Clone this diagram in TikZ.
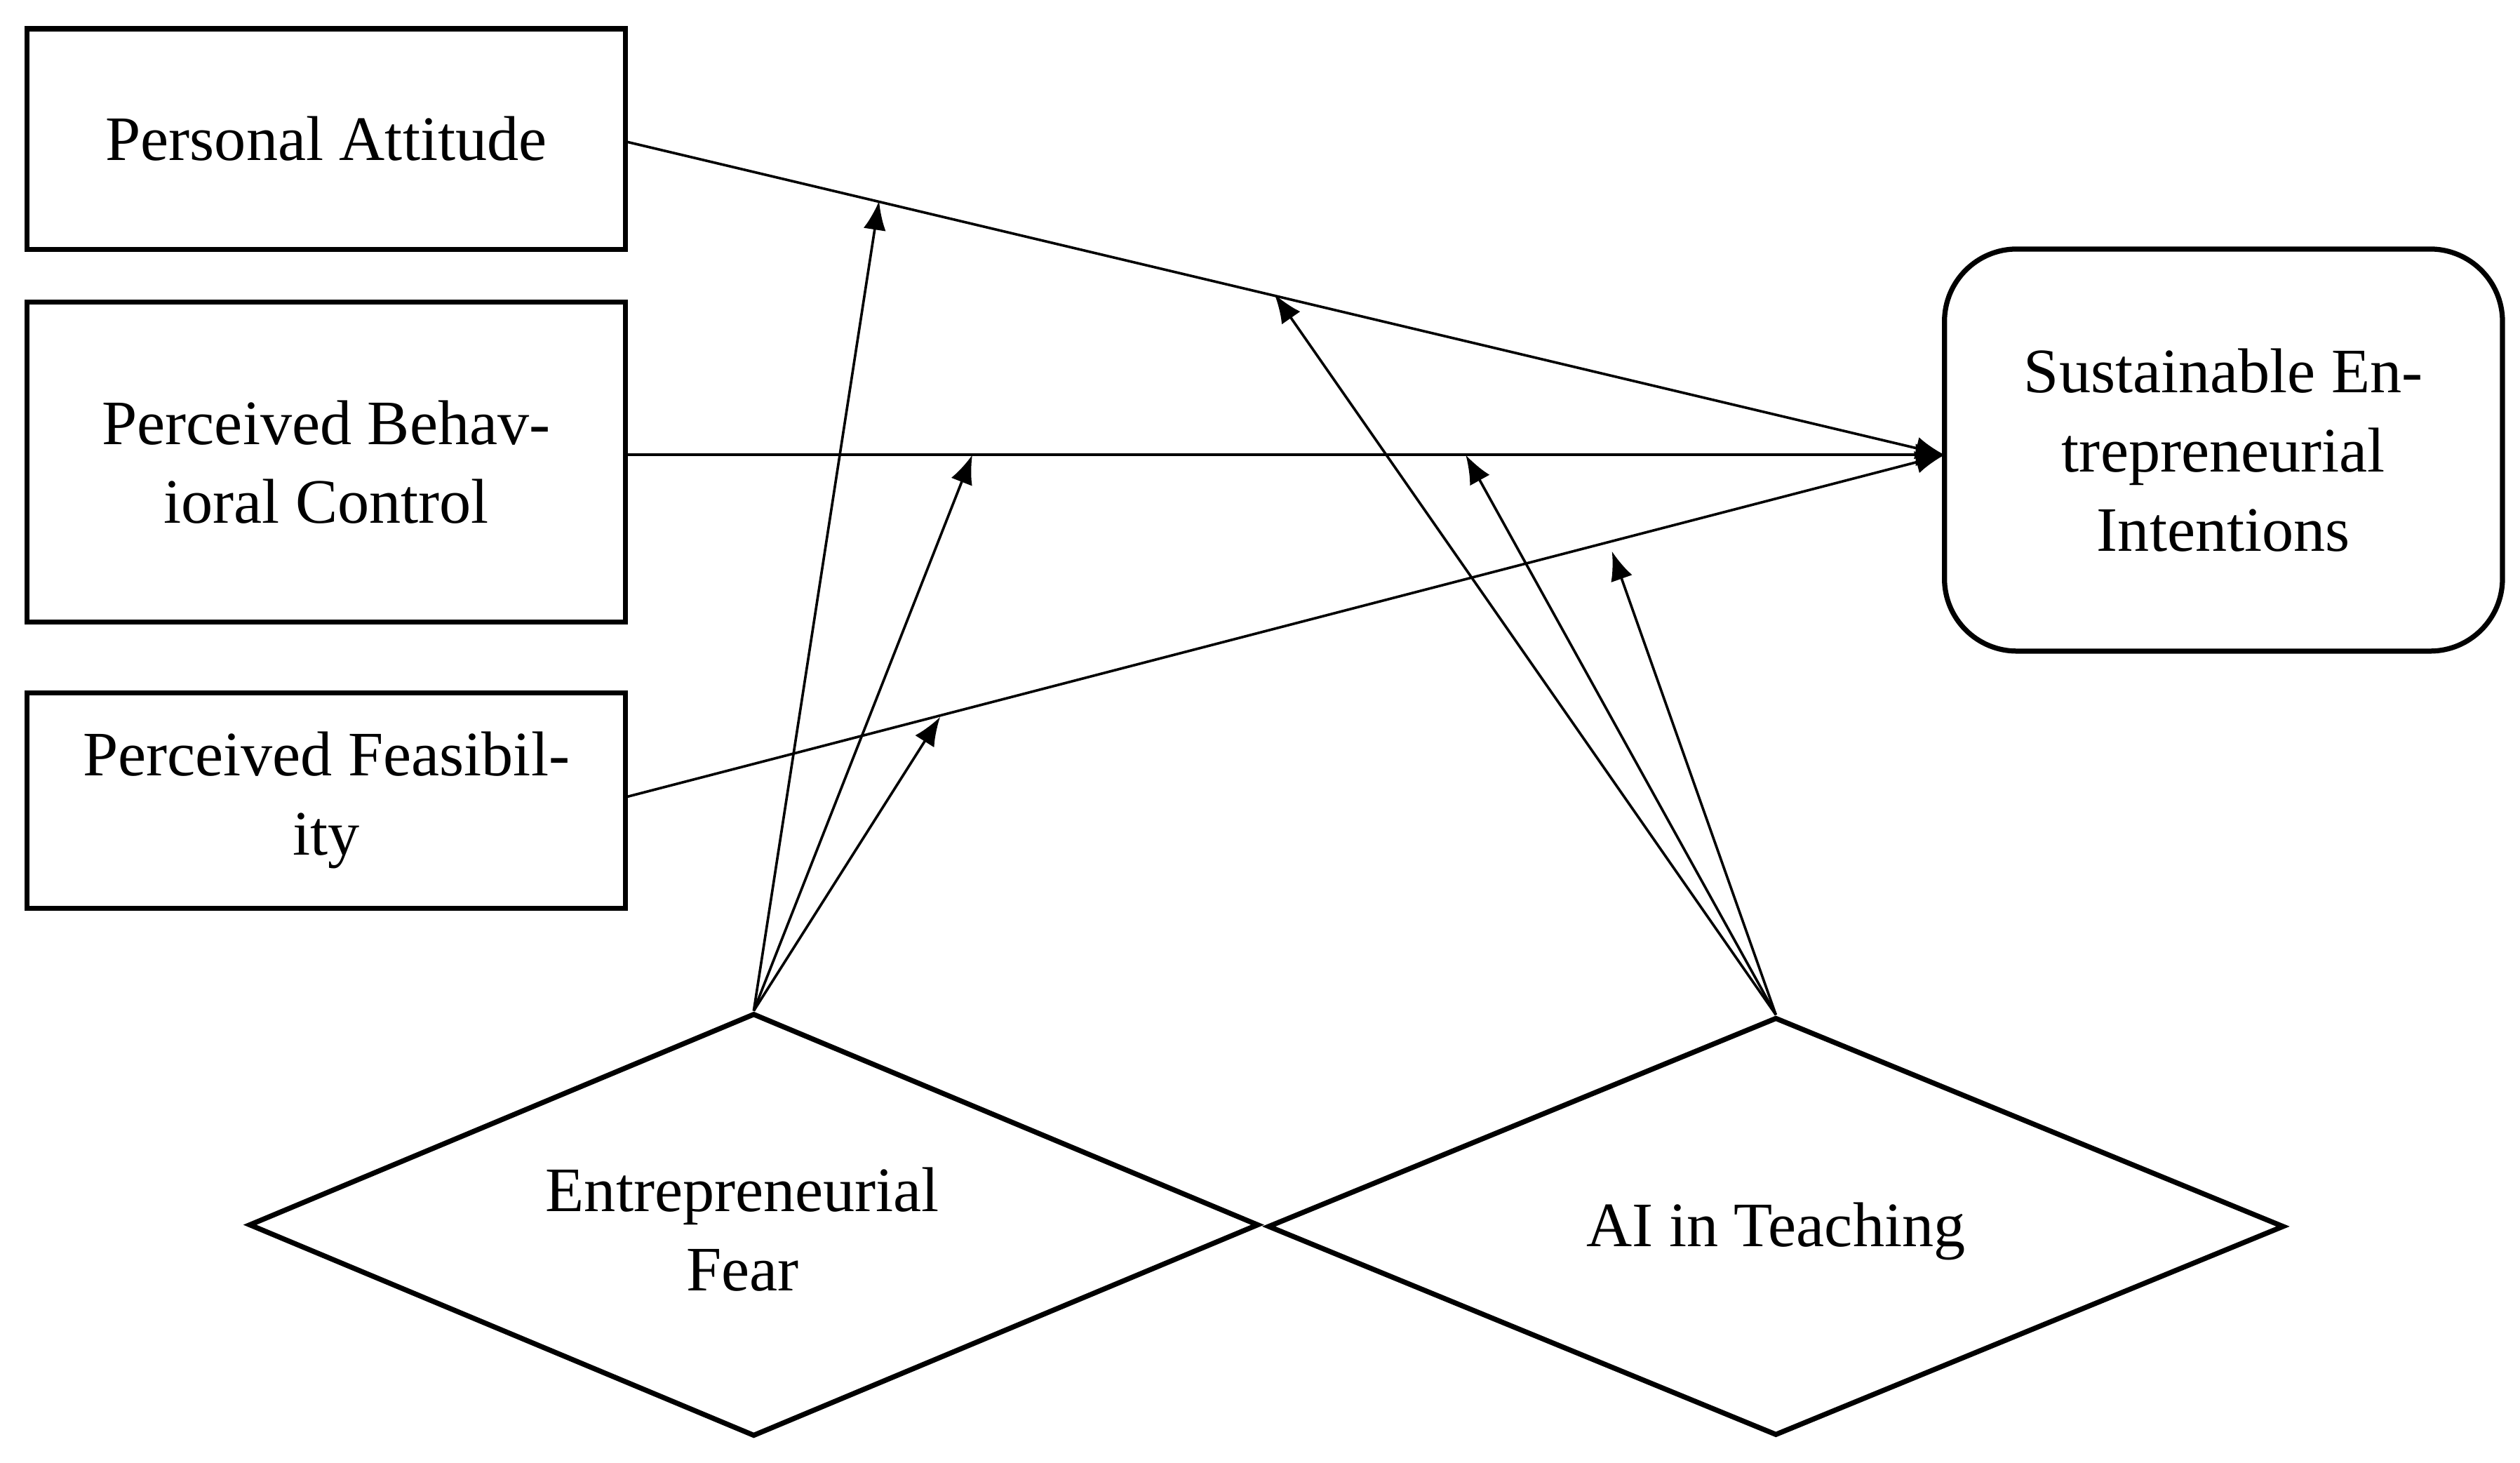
\documentclass[tikz,border=0pt]{standalone}
\usepackage{fontspec}
\setmainfont{Liberation Serif}
\usetikzlibrary{arrows.meta,calc,positioning,shapes.geometric}
\tikzstyle{box}=[draw,line width=0.9pt,inner sep=0pt,align=center]
\tikzstyle{line}=[-{Latex[length=1.8mm,width=1.4mm]},line width=0.45pt]

\begin{document}
\begin{tikzpicture}[x=0.01cm,y=-0.01cm,font=\fontsize{11.2}{14}\selectfont]
  \useasboundingbox (0,0) rectangle (1568,910);

  % left boxes
  \node[box,minimum width=3.72cm,minimum height=1.37cm] (pa) at (203,86.5) {Personal Attitude};
  \node[box,minimum width=3.72cm,minimum height=1.99cm] (pbc) at (203,287.5) {Perceived Behav-\\ioral Control};
  \node[box,minimum width=3.72cm,minimum height=1.34cm] (pf) at (203,498) {Perceived Feasibil-\\ity};
  % outcome
  \node[box,rounded corners=0.45cm,minimum width=3.47cm,minimum height=2.5cm] (sei) at (1383.5,280) {Sustainable En-\\trepreneurial\\Intentions};

  % moderators
  \node[draw,diamond,aspect=2.4,line width=0.9pt,inner sep=0pt,minimum width=6.28cm,minimum height=2.63cm] (ef) at (469,762) {};
  \node[align=center] (eft) at (462,765) {Entrepreneurial\\Fear};
  \node[draw,diamond,aspect=2.4,line width=0.9pt,inner sep=0pt,minimum width=6.32cm,minimum height=2.6cm] (ai) at (1105,763) {};
  \node (ait) at (1105,766) {AI in Teaching};

  \coordinate (pain) at (389,88);
  \coordinate (pbcin) at (389,283);
  \coordinate (pfin) at (389,496);
  \coordinate (seiin) at (1210,283);

  \draw[line] (pain) -- (seiin);
  \draw[line] (pbcin) -- (seiin);
  \draw[line] (pfin) -- (seiin);

  % moderation paths
  \coordinate (m1) at (547,125);
  \coordinate (m2) at (605,283);
  \coordinate (m3) at (585,446);
  \coordinate (m4) at (793,183);
  \coordinate (m5) at (912,283);
  \coordinate (m6) at (1003,343);
  \draw[line] (ef.north) -- (m1);
  \draw[line] (ef.north) -- (m2);
  \draw[line] (ef.north) -- (m3);
  \draw[line] (ai.north) -- (m4);
  \draw[line] (ai.north) -- (m5);
  \draw[line] (ai.north) -- (m6);
\end{tikzpicture}
\end{document}
